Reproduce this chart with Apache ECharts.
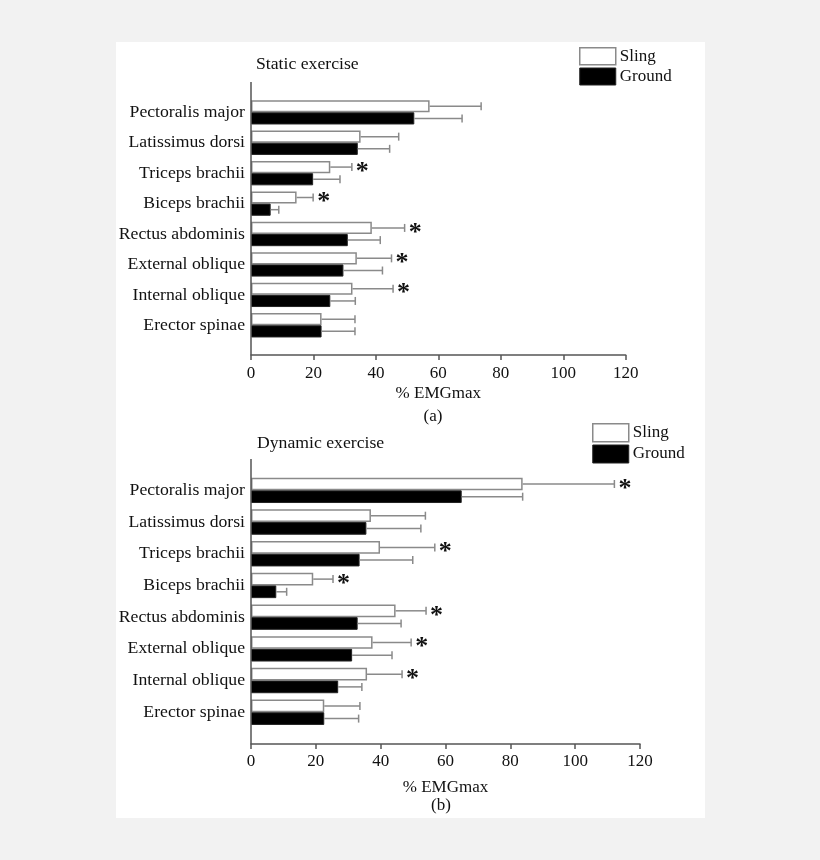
<!DOCTYPE html>
<html>
<head>
<meta charset="utf-8">
<script src="https://cdn.jsdelivr.net/npm/echarts@6/dist/echarts.min.js"></script>
<style>
  html, body { margin: 0; padding: 0; background: #f2f2f2; }
  #panel { position: absolute; left: 116px; top: 42px; width: 589px; height: 776px; background: #fff; }
  #chart { position: absolute; left: 0; top: 0; width: 820px; height: 860px; }
</style>
</head>
<body>
<div id="panel"></div>
<div id="chart"></div>
<script>
// ---- data ----
const categories = ['Pectoralis major', 'Latissimus dorsi', 'Triceps brachii', 'Biceps brachii',
  'Rectus abdominis', 'External oblique', 'Internal oblique', 'Erector spinae'];
const xTicks = [0, 20, 40, 60, 80, 100, 120];

// Static exercise (a)
const staticSling = [57.2, 35.1, 25.4, 14.6, 38.7, 33.9, 32.5, 22.6];
const staticSlingSD = [16.5, 12.2, 6.9, 5.3, 10.5, 11.1, 13.0, 10.7];
const staticGround = [52.3, 34.2, 19.9, 6.3, 31.0, 29.6, 25.4, 22.6];
const staticGroundSD = [15.3, 10.2, 8.6, 2.6, 10.4, 12.5, 8.0, 10.7];
const staticStar = [0, 0, 1, 1, 1, 1, 1, 0];

// Dynamic exercise (b)
const dynSling = [83.8, 37.0, 39.8, 19.2, 44.6, 37.5, 35.8, 22.6];
const dynSlingSD = [28.3, 16.8, 16.9, 6.1, 9.4, 11.9, 10.8, 11.0];
const dynGround = [65.0, 35.6, 33.5, 7.8, 32.9, 31.2, 26.9, 22.6];
const dynGroundSD = [18.8, 16.8, 16.4, 3.2, 13.4, 12.3, 7.3, 10.6];
const dynStar = [1, 0, 1, 1, 1, 1, 1, 0];

// ---- style ----
const FONT = 'Liberation Serif';
const TXT = '#111';
const AXIS = '#555';
const ERR = '#8a8a8a';

function errData(mean, sd, star) {
  return mean.map((m, i) => [i, m, sd[i], star ? star[i] : 0]);
}

function errRender(sign) {
  return function (params, api) {
    const cat = api.value(0), mean = api.value(1), sd = api.value(2), star = api.value(3);
    const band = api.size([0, 1])[1];
    const p0 = api.coord([mean, cat]);
    const p1 = api.coord([mean + sd, cat]);
    const y = p0[1] + sign * band * 0.2;
    const children = [
      { type: 'line', shape: { x1: p0[0], y1: y, x2: p1[0], y2: y }, style: { stroke: ERR, lineWidth: 1.5 } },
      { type: 'line', shape: { x1: p1[0], y1: y - 4, x2: p1[0], y2: y + 4 }, style: { stroke: ERR, lineWidth: 1.5 } }
    ];
    if (star) {
      children.push({ type: 'text', x: p1[0] + 4, y: y + 5,
        style: { text: '*', font: 'bold 26px ' + FONT, fill: '#111', align: 'left', verticalAlign: 'middle' } });
    }
    return { type: 'group', children };
  };
}

const grids = [
  { left: 251, width: 374.7, top: 97.1, height: 243.4 },
  { left: 251, width: 389, top: 474.5, height: 253.6 }
];

function xAxisFor(idx, offset, nameGap, labelMargin) {
  return {
    type: 'value', gridIndex: idx, min: xTicks[0], max: xTicks[xTicks.length - 1], interval: 20,
    offset: offset,
    name: '% EMGmax', nameLocation: 'middle', nameGap: nameGap,
    nameTextStyle: { fontFamily: FONT, fontSize: 17, color: TXT },
    axisLine: { show: true, lineStyle: { color: AXIS, width: 1.5 } },
    axisTick: { show: true, length: 5, lineStyle: { color: AXIS, width: 1.5 } },
    axisLabel: { fontFamily: FONT, fontSize: 17, color: TXT, margin: labelMargin },
    splitLine: { show: false }
  };
}
function yAxisFor(idx) {
  return {
    type: 'category', gridIndex: idx, data: categories, inverse: true,
    axisLine: { show: false }, axisTick: { show: false },
    axisLabel: { fontFamily: FONT, fontSize: 17.7, color: TXT, margin: 6 },
    splitLine: { show: false }
  };
}

function barSeries(name, idx, data, isSling) {
  return {
    type: 'bar', name: name, xAxisIndex: idx, yAxisIndex: idx, data: data,
    barGap: '0%', barCategoryGap: '20%',
    itemStyle: isSling ? { color: '#fff', borderColor: '#8a8a8a', borderWidth: 1.5 }
                       : { color: '#000', borderColor: '#222', borderWidth: 1 },
    emphasis: { disabled: true }, animation: false
  };
}
function errSeries(idx, mean, sd, star, sign) {
  return {
    type: 'custom', xAxisIndex: idx, yAxisIndex: idx,
    data: errData(mean, sd, star), encode: { x: 1, y: 0 },
    renderItem: errRender(sign), z: 5, animation: false, silent: true
  };
}

const legendData = [
  { name: 'Sling', itemStyle: { color: '#fff', borderColor: '#8a8a8a', borderWidth: 1.5 } },
  { name: 'Ground', itemStyle: { color: '#000', borderColor: '#222', borderWidth: 1 } }
];

const option = {
  animation: false,
  textStyle: { fontFamily: FONT },
  title: [
    { text: 'Static exercise', left: 256, top: 55, padding: 0,
      textStyle: { fontFamily: FONT, fontSize: 17.7, fontWeight: 'normal', color: TXT } },
    { text: 'Dynamic exercise', left: 257, top: 434, padding: 0,
      textStyle: { fontFamily: FONT, fontSize: 17.7, fontWeight: 'normal', color: TXT } }
  ],
  legend: [
    { orient: 'vertical', left: 579, top: 47, padding: 0, itemGap: 2, itemWidth: 36, itemHeight: 17,
      icon: 'rect', data: legendData, selectedMode: false,
      textStyle: { fontFamily: FONT, fontSize: 17, color: TXT, padding: [0, 0, 0, -1] } },
    { orient: 'vertical', left: 592, top: 423, padding: 0, itemGap: 2, itemWidth: 36, itemHeight: 18,
      icon: 'rect', data: legendData, selectedMode: false,
      textStyle: { fontFamily: FONT, fontSize: 17, color: TXT, padding: [0, 0, 0, -1] } }
  ],
  grid: grids,
  xAxis: [xAxisFor(0, 14.5, 30.5, 10), xAxisFor(1, 15.9, 35.5, 9)],
  yAxis: [yAxisFor(0), yAxisFor(1)],
  graphic: [
    { type: 'line', shape: { x1: 251, y1: 82, x2: 251, y2: 355 }, style: { stroke: AXIS, lineWidth: 1.5 }, z: 10 },
    { type: 'line', shape: { x1: 251, y1: 459, x2: 251, y2: 744 }, style: { stroke: AXIS, lineWidth: 1.5 }, z: 10 },
    { type: 'text', x: 433, y: 417, style: { text: '(a)', font: '17px ' + FONT, fill: TXT, align: 'center', verticalAlign: 'middle' } },
    { type: 'text', x: 441, y: 806, style: { text: '(b)', font: '17px ' + FONT, fill: TXT, align: 'center', verticalAlign: 'middle' } }
  ],
  series: [
    barSeries('Sling', 0, staticSling, true),
    barSeries('Ground', 0, staticGround, false),
    errSeries(0, staticSling, staticSlingSD, staticStar, -1),
    errSeries(0, staticGround, staticGroundSD, null, 1),
    barSeries('Sling', 1, dynSling, true),
    barSeries('Ground', 1, dynGround, false),
    errSeries(1, dynSling, dynSlingSD, dynStar, -1),
    errSeries(1, dynGround, dynGroundSD, null, 1)
  ]
};

const chart = echarts.init(document.getElementById('chart'), null, { renderer: 'canvas' });
chart.setOption(option);
</script>
</body>
</html>
